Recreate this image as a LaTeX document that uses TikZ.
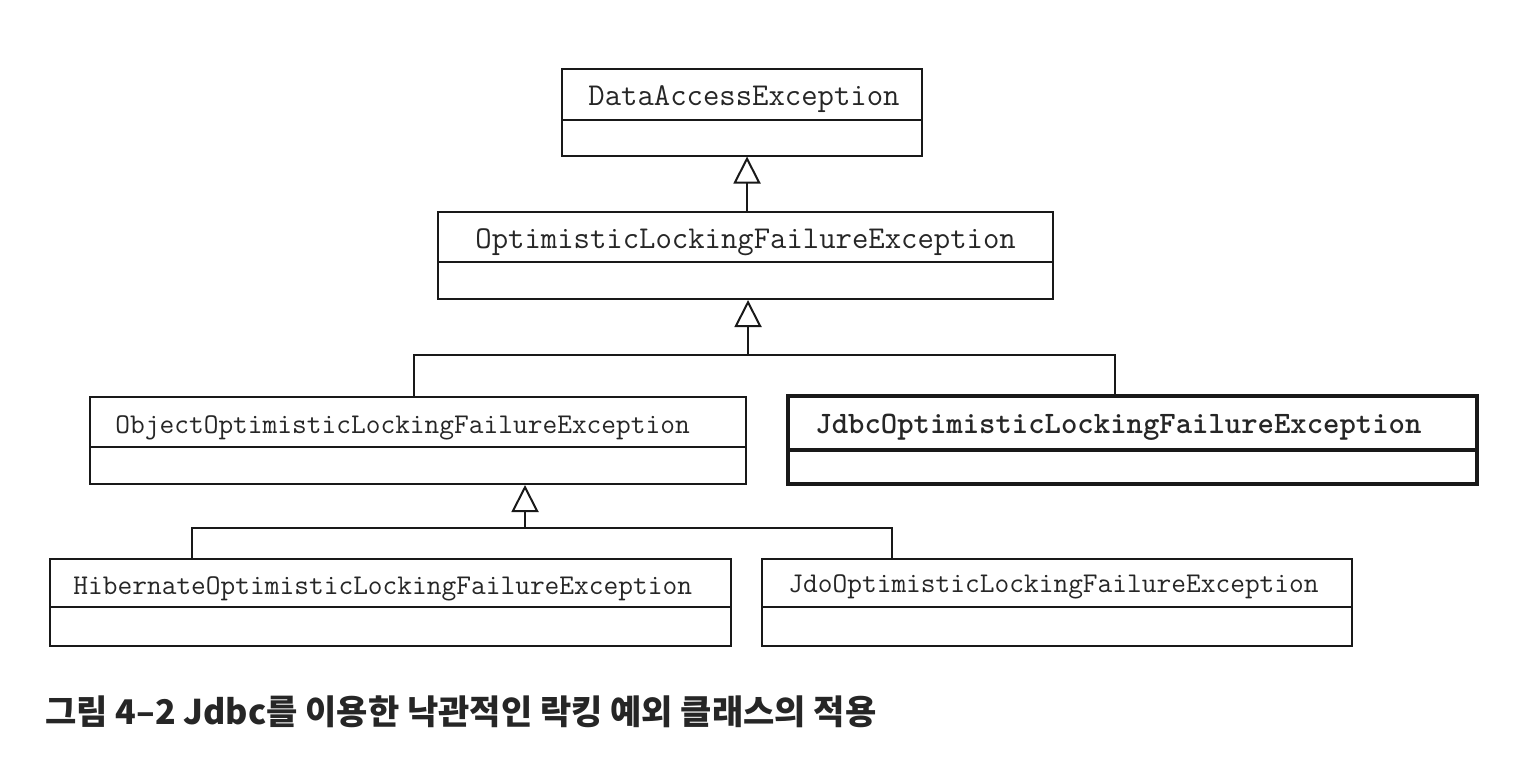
\documentclass[tikz,border=0pt]{standalone}
\usepackage{fontspec}
\newfontfamily\cjk{Noto Sans CJK KR}
\usetikzlibrary{arrows.meta,calc}
\begin{document}
\begin{tikzpicture}[x=0.5pt,y=-0.5pt,
  box/.style={draw=black!90,line width=1pt,inner sep=0pt,minimum height=43.5pt},
  boldbox/.style={box,line width=1.8pt},
  divline/.style={draw=black!90,line width=1pt},
  bigtxt/.style={inner sep=0pt,anchor=base west,text=black!85,font=\fontsize{15.9}{18}\selectfont\ttfamily},
  smalltxt/.style={inner sep=0pt,anchor=base west,text=black!85,font=\fontsize{14.3}{17}\selectfont\ttfamily},
  conn/.style={draw=black!90,line width=1pt},
  inh/.style={conn,-{Triangle[open,length=13.5pt,width=13.5pt,line width=1pt]}}]
\useasboundingbox (0,0) rectangle (1534,766);
% boxes
\node[box,minimum width=180pt] (dae) at (742,112) {};
\node[box,minimum width=307.5pt] (ole) at (745.5,255.5) {};
\node[box,minimum width=328pt] (obj) at (418,440.5) {};
\node[boldbox,minimum width=344.5pt,minimum height=44pt] (jdbc) at (1132.5,440) {};
\node[box,minimum width=340.5pt] (hib) at (390.5,602.5) {};
\node[box,minimum width=295pt] (jdo) at (1057,602.5) {};
% dividers
\draw[divline] (dae.west |- 0,120) -- (dae.east |- 0,120);
\draw[divline] (ole.west |- 0,262) -- (ole.east |- 0,262);
\draw[divline] (obj.west |- 0,447) -- (obj.east |- 0,447);
\draw[divline,line width=1.6pt] (jdbc.west |- 0,450) -- (jdbc.east |- 0,450);
\draw[divline] (hib.west |- 0,607) -- (hib.east |- 0,607);
\draw[divline] (jdo.west |- 0,607) -- (jdo.east |- 0,607);
% labels
\node[bigtxt] (daeT) at (588,105) {DataAccessException};
\node[bigtxt] (oleT) at (475,248) {OptimisticLockingFailureException};
\node[smalltxt] (objT) at (115,433) {ObjectOptimisticLockingFailureException};
\node[bigtxt,font=\fontsize{15.6}{18}\selectfont\ttfamily\bfseries] (jdbcT) at (815,433) {JdbcOptimisticLockingFailureException};
\node[smalltxt] (hibT) at (73,594) {HibernateOptimisticLockingFailureException};
\node[smalltxt] (jdoT) at (788,592) {JdoOptimisticLockingFailureException};
% connectors
\coordinate (t1) at (747,0);
\draw[inh] (ole.north -| t1) -- (dae.south -| t1);
\coordinate (j2) at (748,355);
\coordinate (d1) at (414,355);
\coordinate (d2) at (1115,355);
\draw[inh] (j2) -- (ole.south -| j2);
\draw[conn] (obj.north -| d1) -- (d1) -- (d2) -- (jdbc.north -| d2);
\coordinate (j3) at (525,528);
\coordinate (d3) at (192,528);
\coordinate (d4) at (892,528);
\draw[inh] (j3) -- (obj.south -| j3);
\draw[conn] (hib.north -| d3) -- (d3) -- (d4) -- (jdo.north -| d4);
% caption
\node[inner sep=0pt,anchor=base west,text=black!85,font=\cjk\bfseries\fontsize{17}{20}\selectfont] (cap) at (45,724) {그림 4–2 Jdbc를 이용한 낙관적인 락킹 예외 클래스의 적용};
\end{tikzpicture}
\end{document}
